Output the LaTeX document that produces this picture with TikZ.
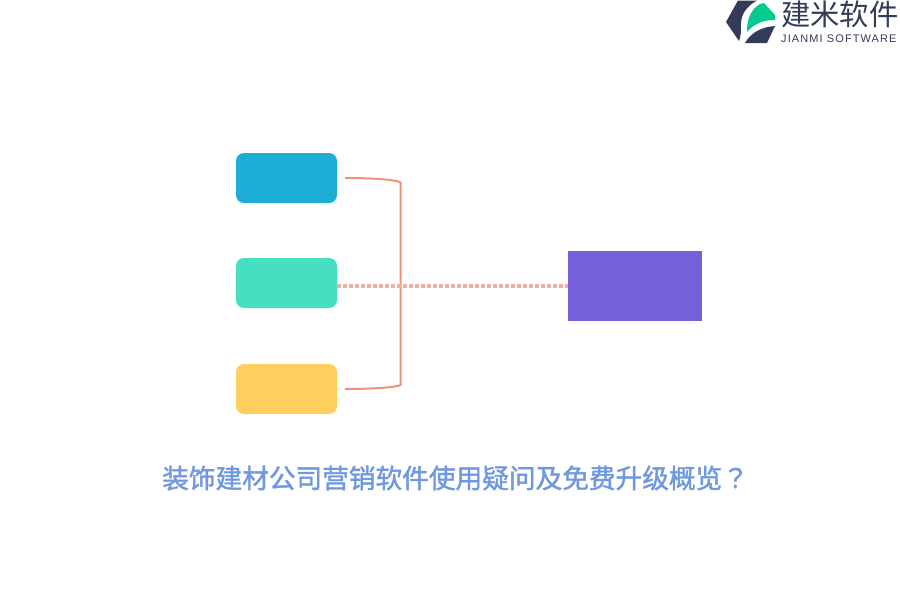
\documentclass[tikz,border=0pt]{standalone}
\usepackage{fontspec}
\newfontfamily\cjk{Noto Sans CJK SC}
\newfontfamily\titlefont[FakeBold=1.5]{Noto Sans CJK SC}
\newfontfamily\markfont[FakeBold=1.5]{Noto Sans CJK TC}
\newfontfamily\brandfont[LetterSpace=10]{Liberation Sans}
\setmainfont{Liberation Sans}
\definecolor{bracketred}{HTML}{F0907A}
\definecolor{dotred}{HTML}{F0B0A2}
\definecolor{titleblue}{HTML}{6F98E0}
\definecolor{logodark}{HTML}{333B5B}
\definecolor{logogreen}{HTML}{06C98F}
\tikzset{
  itembox/.style={rounded corners=8pt, minimum width=101pt, minimum height=50pt, inner sep=0pt},
  bracket/.style={draw=bracketred, line width=2pt},
  dotlink/.style={draw=dotred, line width=3.6pt, dash pattern=on 3.6pt off 2.4pt}
}
\begin{document}
\begin{tikzpicture}[x=1pt,y=-1pt]
  \useasboundingbox (0,0) rectangle (900,600);
  \node[itembox, fill={rgb,255:red,30;green,174;blue,213}] (blue) at (286.5,178) {};
  \node[itembox, fill={rgb,255:red,70;green,224;blue,192}] (green) at (286.5,283) {};
  \node[itembox, fill={rgb,255:red,255;green,206;blue,92}] (yellow) at (286.5,389) {};
  \node[fill={rgb,255:red,117;green,95;blue,219}, minimum width=134pt, minimum height=70pt, inner sep=0pt] (target) at (635,286) {};
  \coordinate (top) at (345,178);
  \coordinate (bottom) at (345,389);
  % bracket
  \draw[bracket] (top) .. controls (375,178) and (398,180) .. (400.5,182.5) -- (400.5,385) .. controls (398,387) and (375,389) .. (bottom);
  \draw[dotlink] (green.east |- target.west) -- (target.west);
  \node[font=\fontsize{26.67pt}{30pt}\selectfont, text=titleblue, inner sep=0pt, anchor=west] (title) at (162,478) {\titlefont 装饰建材公司营销软件使用疑问及免费升级概览\markfont ？};
  % logo
  \fill[logodark] (726,22) -- (738,0.5) -- (757,0.5) .. controls (747,6) and (741,14) .. (741,24) .. controls (741,31) and (741,36) .. (739,41) -- cycle;
  \fill[logogreen] (747,32) .. controls (747,20) and (750,10) .. (760,4) -- (764,3) -- (775,15) -- (775,20) .. controls (762,20) and (754,24) .. (747,32) -- cycle;
  \fill[logodark] (745,43) .. controls (750,34) and (760,27) .. (775,26) -- (767,43) -- cycle;
  \node[font=\cjk\fontsize{29.3pt}{30pt}\selectfont, text=logodark, inner sep=0pt, anchor=west] (brand) at (781,14) {建米软件};
  \node[font=\brandfont\fontsize{11pt}{12pt}\selectfont, text=logodark, inner sep=0pt, anchor=west] (brandlatin) at (781,38.5) {JIANMI SOFTWARE};
\end{tikzpicture}
\end{document}
